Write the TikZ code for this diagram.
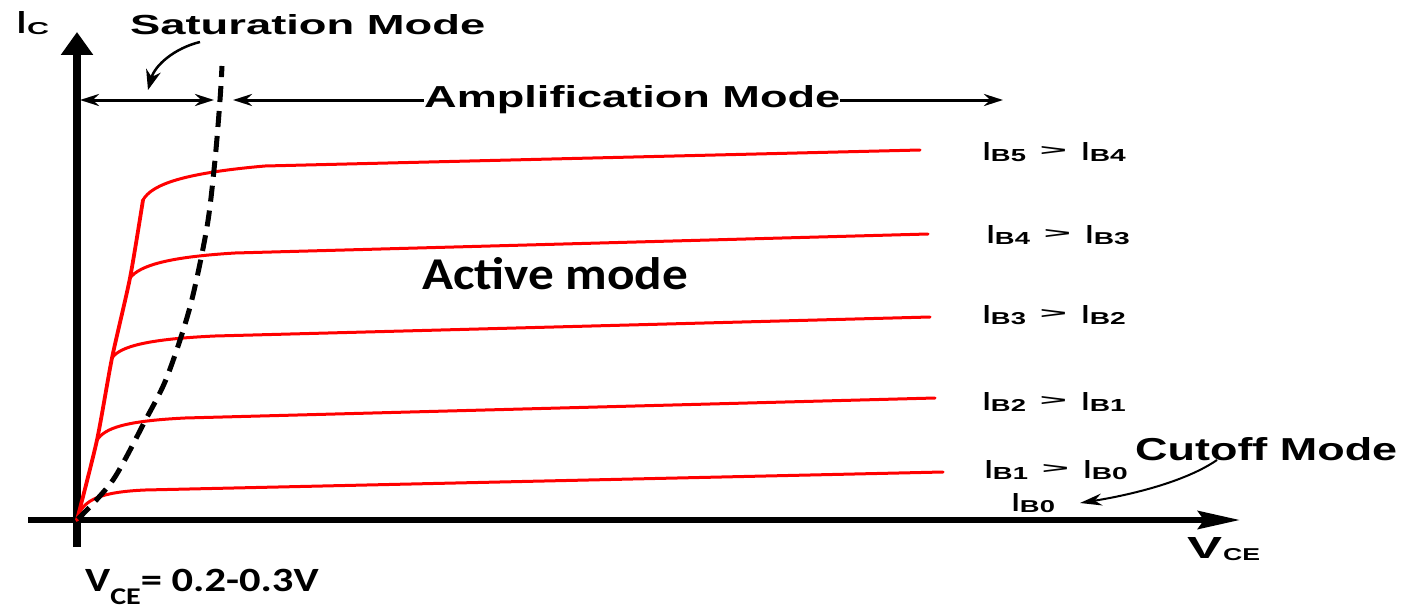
\documentclass[tikz,border=0pt]{standalone}
\usepackage{fontspec}
\setmainfont{Liberation Sans}
\newfontfamily\carl{Carlito}
\usepackage{graphicx}
\usetikzlibrary{arrows.meta}
\newcommand{\bigI}[1]{\resizebox{!}{#1}{\bfseries I}}
\newcommand{\subtxt}[2]{\raisebox{-1pt}{\resizebox{#2}{12pt}{\bfseries #1}}}
\newcommand{\ibl}[2]{\bigI{18pt}\kern0.5pt\subtxt{B#1}{35pt}\hspace{14pt}\raisebox{5pt}{\resizebox{27pt}{9pt}{\bfseries >}}\hspace{15pt}\bigI{18pt}\kern0.5pt\subtxt{B#2}{36pt}}
\begin{document}
\begin{tikzpicture}[x=1pt,y=-1pt,
  redc/.style={draw=red, line width=3pt, line cap=round, line join=round},
  lbl/.style={inner sep=0pt, anchor=base west},
  dim/.style={line width=3pt, {Stealth[length=19pt,width=12pt]}-{Stealth[length=19pt,width=12pt]}},
  ]
\useasboundingbox (0,0) rectangle (1404,610);
% axes
\coordinate (O) at (77,520);
\coordinate (ybot) at (77,547);
\coordinate (ytop) at (77,32);
\coordinate (xl) at (28,520);
\coordinate (xr) at (1240,520);
\draw[line width=8pt, -{Triangle[width=31pt,length=23pt]}] (ybot) -- (ytop);
\draw[line width=6pt, -{Stealth[length=42pt,width=18pt,inset=6pt]}] (xl) -- (xr);
% mode range lines
\coordinate (s0) at (80,100);
\coordinate (s1) at (214,100);
\coordinate (a0) at (233,100);
\coordinate (a1) at (1003,100);
\draw[dim] (s0) -- (s1);
\draw[dim] (a0) -- (a1);
\node[lbl, fill=white] (amp) at (424,107) {\resizebox{416pt}{22pt}{\bfseries Amplification Mode}};
% red characteristic curves
\draw[redc, line width=3.8pt] plot[smooth, tension=0.4] coordinates {(77,520) (97,440) (112,358) (130,278) (143,200)};
\draw[redc] (143,200) .. controls (152,184) and (185,173) .. (265,166) -- (920,150);
\draw[redc] (130,278) .. controls (140,265) and (170,257) .. (235,253) -- (928,234);
\draw[redc] (112,358) .. controls (120,346) and (150,339) .. (215,336) -- (930,317);
\draw[redc] (97,440) .. controls (105,428) and (125,421) .. (185,418) -- (935,398);
\draw[redc] (78,516) .. controls (84,500) and (100,492) .. (145,490) -- (943,472);
% dashed saturation boundary
\draw[line width=5pt, dash pattern=on 16pt off 9pt] plot[smooth] coordinates {(78,519) (113,480) (145,421) (167,377) (190,307) (207,227) (215,160) (220,100) (222,66)};
% curved pointers
\coordinate (sa) at (200,42);
\coordinate (sb) at (148,90);
\draw[line width=2.5pt, -{Stealth[length=20pt,width=15pt]}] (sa) .. controls (175,48) and (155,65) .. (sb);
\coordinate (ca) at (1217,460);
\coordinate (cb) at (1080,503);
\draw[line width=2pt, -{Stealth[length=22pt,width=12pt]}] (ca) .. controls (1185,482) and (1130,495) .. (cb);
% labels
\node[lbl] (ic) at (17,34) {\bigI{22pt}\kern1pt\raisebox{-1pt}{\resizebox{22pt}{12pt}{\bfseries C}}};
\node[lbl] (sat) at (130,35) {\resizebox{355pt}{20pt}{\bfseries Saturation Mode}};
\node[lbl] (cut) at (1135,460) {\resizebox{262pt}{23pt}{\bfseries Cutoff Mode}};
\node[lbl] (act) at (422,289) {\resizebox{266pt}{32pt}{\carl\bfseries Active mode}};
\node[lbl] (vce) at (1187,558) {\resizebox{35pt}{21pt}{\bfseries V}\kern1pt\raisebox{-2pt}{\resizebox{37pt}{12pt}{\bfseries CE}}};
\node[lbl] (vsat) at (85,591) {\scalebox{1.25}[1]{\carl\bfseries\fontsize{34}{40}\selectfont V\raisebox{-13pt}{\fontsize{24}{30}\selectfont CE}= 0.2-0.3V}};
\node[lbl] (l5) at (983,160) {\ibl{5}{4}};
\node[lbl] (l4) at (987,243) {\ibl{4}{3}};
\node[lbl] (l3) at (983,323) {\ibl{3}{2}};
\node[lbl] (l2) at (983,410) {\ibl{2}{1}};
\node[lbl] (l1) at (985,478) {\ibl{1}{0}};
\node[lbl] (l0) at (1012,511) {\bigI{18pt}\kern0.5pt\subtxt{B0}{35pt}};
\end{tikzpicture}
\end{document}
